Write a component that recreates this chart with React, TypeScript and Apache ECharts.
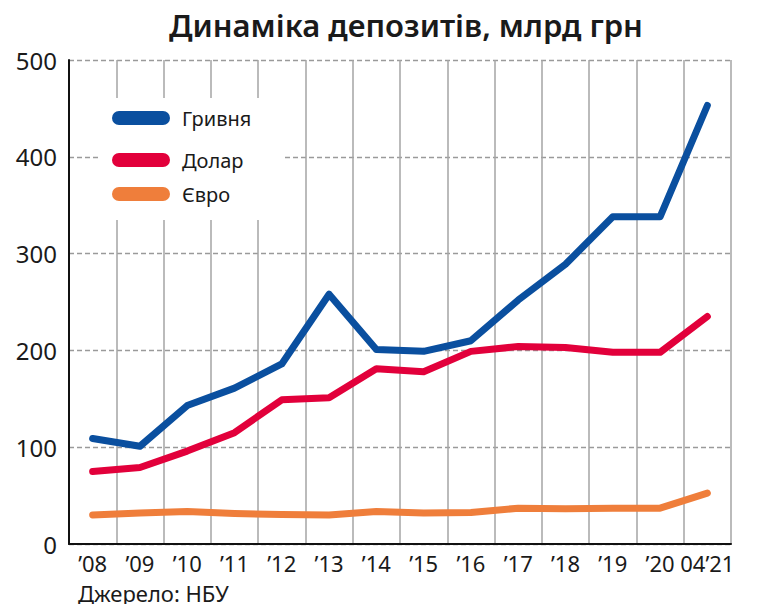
import React, { useEffect, useRef } from "react";
import * as echarts from "echarts";

const categories = ["’08", "’09", "’10", "’11", "’12", "’13", "’14", "’15", "’16", "’17", "’18", "’19", "’20", "04’21"];
const uah = [109, 101, 143, 161, 186, 258, 201, 199, 210, 252, 289, 338, 338, 453];
const usd = [75, 79, 96, 115, 149, 151, 181, 178, 199, 204, 203, 198, 198, 235];
const eur = [30, 32, 33.5, 31.5, 30.5, 30, 33.5, 32, 32.5, 37, 36.5, 37, 37, 52.5];
const seriesNames = ["Гривня", "Долар", "Євро"];
const colors = ["#0a4f9f", "#e2003b", "#ef7e3b"];
const yTicks = { min: 0, max: 500, interval: 100 };

const FONT = "'Noto Sans', sans-serif";
const TEXT = "#1a1a1a";
const pill = "path://M7,0 H51 A7,7 0 0 1 51,14 H7 A7,7 0 0 1 7,0 Z";

export default function App() {
  const ref = useRef<HTMLDivElement>(null);
  useEffect(() => {
    if (!ref.current) return;
    const chart = echarts.init(ref.current, undefined, { renderer: "svg" });
    const values = [uah, usd, eur];
    const legendTops = [108, 150, 184];
    chart.setOption({
      animation: false,
      backgroundColor: "#fff",
      title: {
        text: "Динаміка депозитів, млрд грн",
        left: 164,
        top: 4,
        textStyle: { fontFamily: FONT, fontSize: 31, fontWeight: 600, color: TEXT },
      },
      grid: { left: 69, right: 33, top: 60, bottom: 68 },
      legend: seriesNames.map((n, i) => ({
        data: [n],
        left: 112,
        top: legendTops[i],
        padding: 0,
        icon: pill,
        itemWidth: 58,
        itemHeight: 14,
        itemGap: 12,
        selectedMode: false,
        textStyle: { fontFamily: FONT, fontSize: 20, color: TEXT, padding: [0, 0, 0, 7] },
      })),
      graphic: [
        {
          type: "rect",
          shape: { x: 100, y: 98, width: 182, height: 122 },
          style: { fill: "#fff" },
          z: 3,
        },
        {
          type: "text",
          left: 78,
          top: 582,
          style: { text: "Джерело: НБУ", fontFamily: FONT, fontSize: 22, fill: TEXT },
        },
      ],
      xAxis: {
        type: "category",
        data: categories,
        boundaryGap: true,
        axisLine: { show: true, lineStyle: { color: "#111", width: 2 } },
        axisTick: { show: false },
        axisLabel: { fontFamily: FONT, fontSize: 22, color: TEXT, margin: 8, interval: 0 },
        splitLine: { show: true, lineStyle: { color: "#a5a5a5", width: 1.5, type: "solid" } },
      },
      yAxis: {
        type: "value",
        min: yTicks.min,
        max: yTicks.max,
        interval: yTicks.interval,
        axisLine: { show: true, lineStyle: { color: "#111", width: 2 } },
        axisTick: { show: false },
        axisLabel: { fontFamily: FONT, fontSize: 24, color: TEXT, margin: 12 },
        splitLine: { show: true, lineStyle: { color: "#9a9a9a", width: 1.3, type: [5, 3] } },
      },
      series: seriesNames.map((n, i) => ({
        name: n,
        type: "line",
        data: values[i],
        symbol: "none",
        color: colors[i],
        lineStyle: { width: 7, color: colors[i], cap: "round", join: "round" },
        z: 2,
      })),
    });
    return () => chart.dispose();
  }, []);
  return <div ref={ref} style={{ width: 764, height: 612, margin: -8 }} />;
}
